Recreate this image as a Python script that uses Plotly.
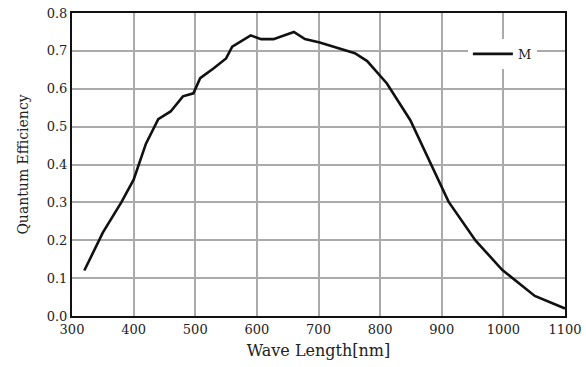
import plotly.graph_objects as go

wavelength = [320, 350, 380, 400, 420, 440, 460, 480, 497, 508, 530, 550, 560, 590,
              607, 627, 660, 678, 702, 759, 779, 811, 849, 880, 911, 955, 998, 1051, 1100]
qe = [0.12, 0.22, 0.30, 0.36, 0.455, 0.52, 0.54, 0.58, 0.588, 0.628, 0.654, 0.68, 0.711, 0.741,
      0.731, 0.731, 0.75, 0.731, 0.722, 0.694, 0.673, 0.614, 0.517, 0.41, 0.302, 0.199, 0.122, 0.053, 0.02]
series_name = "M"
x_ticks = [300, 400, 500, 600, 700, 800, 900, 1000, 1100]
y_ticks = [0.0, 0.1, 0.2, 0.3, 0.4, 0.5, 0.6, 0.7, 0.8]

font_family = "DejaVu Serif, serif"

fig = go.Figure()
fig.add_trace(go.Scatter(x=wavelength, y=qe, mode="lines", name=series_name,
                         line=dict(color="#111111", width=2.6)))

fig.update_layout(
    width=586, height=367,
    margin=dict(l=72, r=21, t=13, b=51, autoexpand=False),
    paper_bgcolor="white", plot_bgcolor="white",
    font=dict(family=font_family, color="#222222", size=13),
    showlegend=True,
    legend=dict(x=0.803, y=0.865, xanchor="left", yanchor="middle",
                bgcolor="white", borderwidth=0, itemwidth=40,
                font=dict(family=font_family, size=13, color="#222222")),
    xaxis=dict(range=[300, 1100], tickvals=x_ticks, ticktext=[str(v) for v in x_ticks],
               showgrid=True, gridcolor="#aaaaaa", gridwidth=1.5, automargin=False,
               showline=True, linecolor="#111111", linewidth=2, mirror=True,
               ticks="", zeroline=False, tickfont=dict(size=13),
               title=dict(text="Wave Length[nm]", font=dict(size=16, family=font_family), standoff=9)),
    yaxis=dict(range=[0, 0.8], tickvals=y_ticks, ticktext=[f"{v:.1f}" for v in y_ticks],
               showgrid=True, gridcolor="#aaaaaa", gridwidth=1.5, automargin=False,
               showline=True, linecolor="#111111", linewidth=2, mirror=True,
               ticks="", zeroline=False, tickfont=dict(size=13),
               title=dict(text="Quantum Efficiency", font=dict(size=14, family=font_family), standoff=15)),
)

fig.write_html("out.html", config={"displayModeBar": False},
               post_script="document.body.style.margin='0';")
